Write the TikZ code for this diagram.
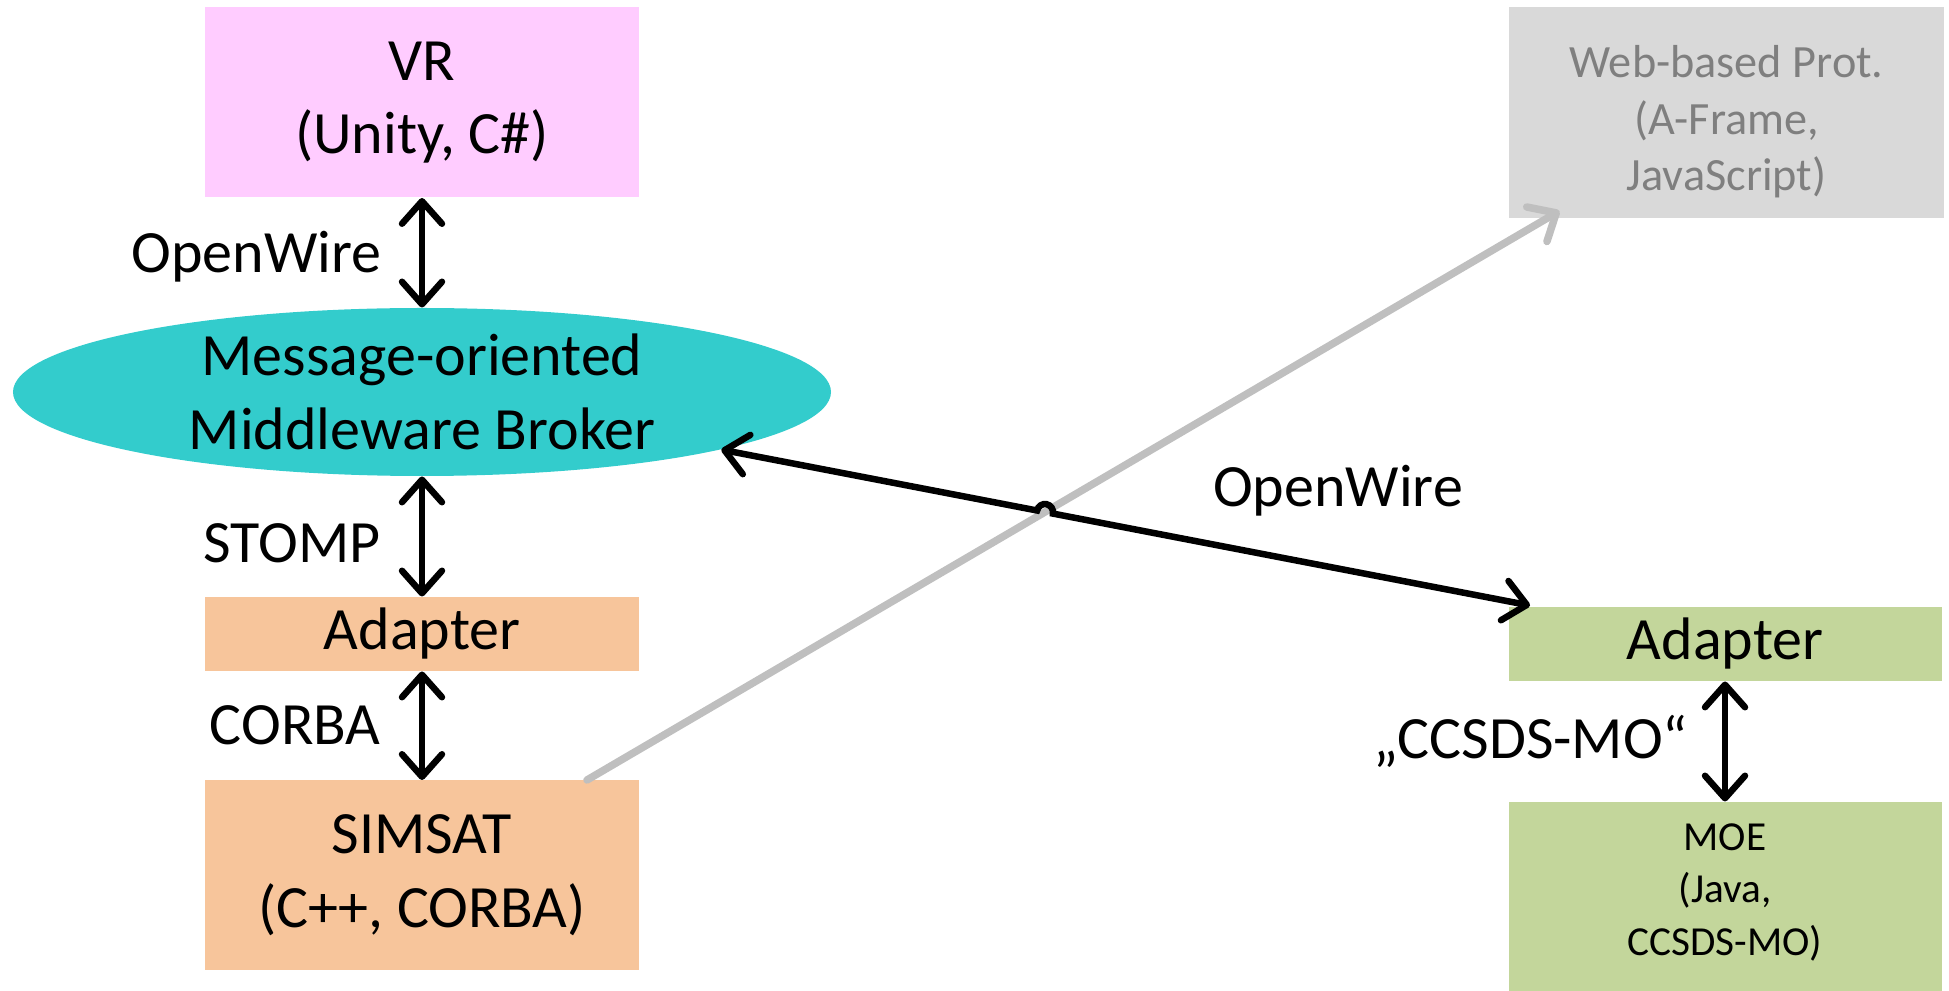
\documentclass[tikz,border=0pt]{standalone}
\usepackage{fontspec}
\setmainfont{Carlito}
\usetikzlibrary{arrows.meta,calc,intersections,shapes.geometric}
\definecolor{vrpink}{HTML}{FFCCFF}
\definecolor{teal1}{HTML}{33CCCC}
\definecolor{orng}{HTML}{F7C59B}
\definecolor{olive}{HTML}{C3D69B}
\definecolor{gbox}{HTML}{D9D9D9}
\definecolor{gtext}{HTML}{7F7F7F}
\definecolor{garrow}{HTML}{BFBFBF}
\begin{document}
\begin{tikzpicture}[x=0.4pt,y=-0.4pt,
  bigfont/.style={font=\fontsize{24}{29.5}\selectfont},
  box/.style={rectangle, inner sep=0pt, align=center, bigfont},
  tipbarb/.tip={Straight Barb[length=9pt,width=16pt,round]},
  conn/.style={line width=2.6pt, black, tipbarb-tipbarb},
  gconn/.style={line width=3pt, garrow, line cap=round, -tipbarb},
  lbl/.style={bigfont, inner sep=0pt}]
\useasboundingbox (0,0) rectangle (1949,991);

% left column
\node[box, fill=vrpink, minimum width=173.2pt, minimum height=76pt] (vr) at (422,102.5) {VR\\(Unity, C\#)};
\node[ellipse, fill=teal1, inner sep=0pt, minimum width=327.2pt, minimum height=67.2pt] (brk) at (422,392) {};
\node[box, align=center] (brktxt) at (422,392) {Message-oriented\\Middleware Broker};
\node[box, fill=orng, minimum width=173.2pt, minimum height=29.6pt] (adL) at (422,634) {Adapter};
\node[box, fill=orng, minimum width=173.2pt, minimum height=75.6pt] (sim) at (422,875) {SIMSAT\\(C++, CORBA)};

% right column
\node[rectangle, fill=gbox, inner sep=0pt, minimum width=174pt, minimum height=84.4pt] (web) at (1726.5,113) {};
\node[align=center, inner sep=0pt, text=gtext, font=\fontsize{18.5}{22.6}\selectfont] (webtxt) at (1726.5,122) {Web-based Prot.\\(A-Frame,\\JavaScript)};
\node[box, fill=olive, minimum width=173.2pt, minimum height=29.6pt] (adR) at (1725,644) {Adapter};
\node[rectangle, fill=olive, inner sep=0pt, minimum width=173.2pt, minimum height=75.6pt] (moe) at (1725,896.5) {};
\node[align=center, inner sep=0pt, font=\fontsize{16.5}{21}\selectfont] (moetxt) at (1725,892) {MOE\\(Java,\\CCSDS-MO)};

% labels
\node[lbl, anchor=east] (l1) at (382,257) {OpenWire};
\node[lbl, anchor=east] (l2) at (381,543) {STOMP};
\node[lbl, anchor=east] (l3) at (381,725) {CORBA};
\node[lbl] (l4) at (1338,491) {OpenWire};
\node[lbl, anchor=east] (l5) at (1688,741) {„CCSDS-MO“};

% vertical connectors
\draw[conn] (vr) -- (brk);
\draw[conn] (brk) -- (adL);
\draw[conn] (adL) -- (sim);
\draw[conn] (adR) -- (moe);

% gray connector
\coordinate (gS) at ($(sim.north east)+(-52,0)$);
\coordinate (gE) at ($(web.south west)+(51,-8)$);
\draw[gconn, name path=gr] (gS) -- (gE);

% black diagonal connector with hop
\coordinate (adTip) at ($(adR.north west)+(22,-1)$);
\path[name path=bk] (brk.center) -- (adTip);
\path[name intersections={of=gr and bk, by=X}];
\draw[conn] (brk) -- ($(X)!3.2pt!(brk.center)$)
  arc[start angle=191, end angle=371, radius=8] -- (adTip);
\end{tikzpicture}
\end{document}
